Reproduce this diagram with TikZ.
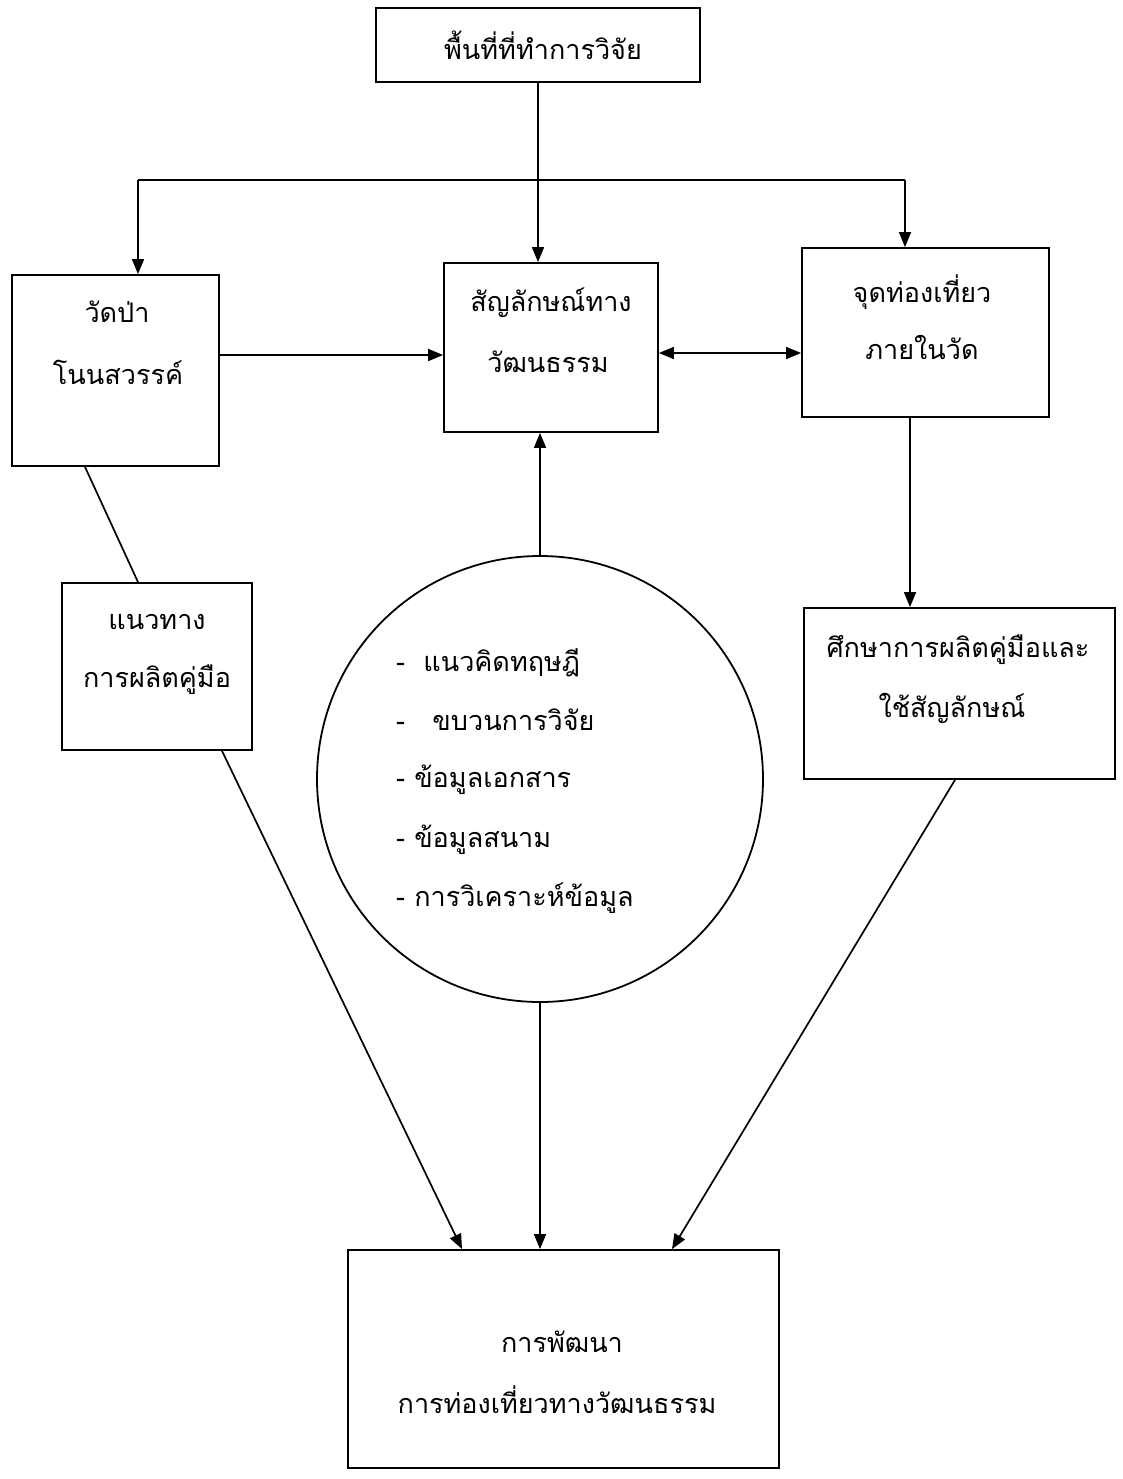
\documentclass[tikz,border=0pt]{standalone}
\usepackage{fontspec}
\newfontfamily\thai[Script=Thai]{Loma}
\usetikzlibrary{arrows.meta}
\begin{document}
\begin{tikzpicture}[x=1pt,y=-1pt,
  box/.style={draw,line width=1.8pt,minimum width=#1,inner sep=0pt},
  txt/.style={font=\thai\fontsize{27}{32}\selectfont,inner sep=0pt},
  conn/.style={line width=1.7pt},
  arr/.style={conn,-{Triangle[length=15pt,width=12pt]}},
  darr/.style={conn,{Triangle[length=15pt,width=12pt]}-{Triangle[length=15pt,width=12pt]}}]
\useasboundingbox (0,0) rectangle (1123,1479);
\fill[white] (0,0) rectangle (1123,1479);
% boxes
\node[box=324pt,minimum height=74pt] (top) at (538,45) {};
\node[box=207pt,minimum height=191pt] (left) at (115.5,370.5) {};
\node[box=214pt,minimum height=169pt] (center) at (551,347.5) {};
\node[box=247pt,minimum height=169pt] (right) at (925.5,332.5) {};
\node[box=190pt,minimum height=167pt] (lleft) at (157,666.5) {};
\node[box=311pt,minimum height=171pt] (rlow) at (959.5,693.5) {};
\node[box=431pt,minimum height=218pt] (bottom) at (563.5,1359) {};
\node[draw,line width=1.8pt,circle,minimum size=446pt,inner sep=0pt] (circ) at (540,779) {};
% texts
\node[txt] (ttop) at (543,45) {พื้นที่ที่ทำการวิจัย};
\node[txt] (tl1) at (117,312) {วัดป่า};
\node[txt] (tl2) at (118,372) {โนนสวรรค์};
\node[txt] (tc1) at (551,303) {สัญลักษณ์ทาง};
\node[txt] (tc2) at (548,362) {วัฒนธรรม};
\node[txt] (tr1) at (922,292) {จุดท่องเที่ยว};
\node[txt] (tr2) at (922,347) {ภายในวัด};
\node[txt] (tll1) at (157,622) {แนวทาง};
\node[txt] (tll2) at (157,680) {การผลิตคู่มือ};
\node[txt] (trl1) at (958,650) {ศึกษาการผลิตคู่มือและ};
\node[txt] (trl2) at (952,708) {ใช้สัญลักษณ์};
\node[txt] (tb1) at (562,1342) {การพัฒนา};
\node[txt] (tb2) at (557,1400) {การท่องเที่ยวทางวัฒนธรรม};
\node[txt,anchor=west] (ci1) at (396,663) {-\ \ แนวคิดทฤษฎี};
\node[txt,anchor=west] (ci2) at (396,720) {-\ \ \ ขบวนการวิจัย};
\node[txt,anchor=west] (ci3) at (396,780) {- ข้อมูลเอกสาร};
\node[txt,anchor=west] (ci4) at (396,840) {- ข้อมูลสนาม};
\node[txt,anchor=west] (ci5) at (396,898) {- การวิเคราะห์ข้อมูล};
% connectors
\coordinate (jl) at (138,180);
\coordinate (jr) at (905,180);
\coordinate (h1) at (0,355);
\coordinate (h2) at (0,353);
\draw[arr] (top.south) -- (top.south|-center.north);
\draw[conn] (jl) -- (jr);
\draw[arr] (jl) -- (jl|-left.north);
\draw[arr] (jr) -- (jr|-right.north);
\draw[arr] (left.east|-h1) -- (center.west|-h1);
\draw[darr] (center.east|-h2) -- (right.west|-h2);
\draw[arr] (circ.north) -- (circ.north|-center.south);
\draw[conn] ([xshift=-30.5pt]left.south) -- ([xshift=-19pt]lleft.north);
\draw[arr] ([xshift=-15.5pt]right.south) -- ([xshift=-49.5pt]rlow.north);
\draw[arr] ([xshift=65pt]lleft.south) -- ([xshift=-101.5pt]bottom.north);
\draw[arr] (circ.south) -- (circ.south|-bottom.north);
\draw[arr] ([xshift=-4.5pt]rlow.south) -- ([xshift=108.5pt]bottom.north);
\end{tikzpicture}
\end{document}
